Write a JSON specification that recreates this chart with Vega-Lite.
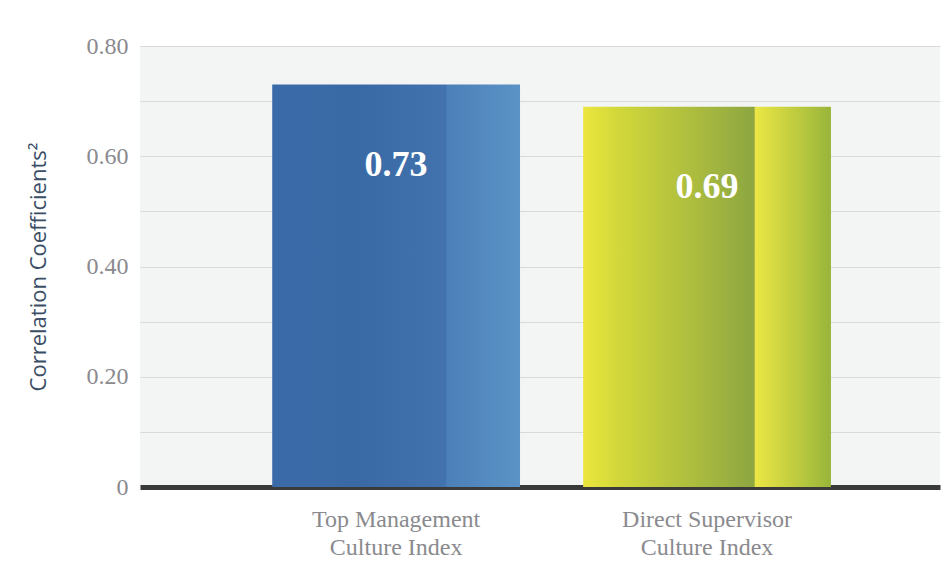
{
  "$schema": "https://vega.github.io/schema/vega-lite/v6.json",
  "autosize": "none",
  "width": 800,
  "height": 441,
  "padding": {"left": 140, "top": 46, "right": 8, "bottom": 75},
  "background": "white",
  "config": {"view": {"stroke": null, "fill": "#f3f5f5"}},
  "data": {"values": [
    {"index": "Top Management|Culture Index", "value": 0.73, "group": "top"},
    {"index": "Direct Supervisor|Culture Index", "value": 0.69, "group": "direct"}
  ]},
  "encoding": {
    "x": {"field": "index", "type": "nominal", "sort": null,
      "scale": {"paddingInner": 0.203, "paddingOuter": 0.388, "align": 0.548},
      "axis": {"title": null, "labelAngle": 0, "labelExpr": "split(datum.label, '|')",
        "labelFont": "Liberation Serif", "labelFontSize": 24, "labelColor": "#8a8a8e",
        "labelLineHeight": 28, "labelPadding": 20, "ticks": false,
        "domainColor": "#3a3a3a", "domainWidth": 5, "grid": false}},
    "y": {"field": "value", "type": "quantitative",
      "scale": {"domain": [0, 0.8], "nice": false},
      "axis": {"title": "Correlation Coefficients²", "titleFont": "Open Sans", "titleFontWeight": "normal",
        "titleFontSize": 22, "titleColor": "#3b4e66", "titlePadding": 36,
        "values": [0, 0.1, 0.2, 0.3, 0.4, 0.5, 0.6, 0.7, 0.8],
        "labelExpr": "datum.value == 0 ? '0' : (round(datum.value*10) % 2 == 0 ? format(datum.value, '.2f') : '')",
        "labelFont": "Liberation Serif", "labelFontSize": 24, "labelColor": "#8a8a8e",
        "labelPadding": 12, "ticks": false, "domain": false,
        "gridColor": "#d6dadb", "gridWidth": 1}}
  },
  "layer": [
    {"transform": [{"filter": "datum.group == 'top'"}],
     "mark": {"type": "bar", "color": {"gradient": "linear", "x1": 0, "y1": 0, "x2": 1, "y2": 0,
       "stops": [
         {"offset": 0, "color": "#3a6ba8"},
         {"offset": 0.35, "color": "#3a6aa6"},
         {"offset": 0.70, "color": "#4273ae"},
         {"offset": 0.705, "color": "#4b80b8"},
         {"offset": 1, "color": "#5b93c6"}]}}},
    {"transform": [{"filter": "datum.group == 'direct'"}],
     "mark": {"type": "bar", "color": {"gradient": "linear", "x1": 0, "y1": 0, "x2": 1, "y2": 0,
       "stops": [
         {"offset": 0, "color": "#ece63e"},
         {"offset": 0.12, "color": "#d5da3a"},
         {"offset": 0.69, "color": "#8da641"},
         {"offset": 0.695, "color": "#ebe645"},
         {"offset": 1, "color": "#98b53a"}]}}},
    {"mark": {"type": "text", "color": "white", "font": "Liberation Serif", "fontWeight": "bold",
       "fontSize": 36, "baseline": "middle", "dy": 80},
     "encoding": {"text": {"field": "value", "type": "quantitative", "format": ".2f"}}}
  ]
}
